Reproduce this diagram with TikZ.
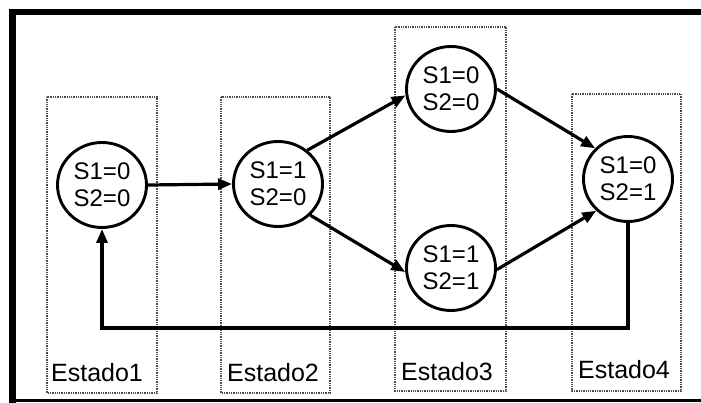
\documentclass[tikz,border=0pt]{standalone}
\usepackage{fontspec}
\setmainfont{Liberation Sans}
\usetikzlibrary{arrows.meta,shapes.geometric}

\tikzset{
  statebox/.style={draw=black!70, line width=1.3pt, dash pattern=on 1.3pt off 1pt},
  state/.style={draw, ellipse, line width=2.9pt, minimum width=89pt, minimum height=85pt,
    inner sep=0pt, align=center, font=\fontsize{24}{27}\selectfont},
  trans/.style={line width=3.2pt, -{Triangle[length=14pt,width=11pt]}},
  caption/.style={font=\fontsize{25}{28}\selectfont, inner sep=0pt}
}

\begin{document}
\begin{tikzpicture}[x=1pt,y=-1pt]
  \useasboundingbox (0,0) rectangle (701,403);
  \fill[white] (0,0) rectangle (701,403);

  % outer frame
  \fill[black] (9,9) rectangle (701,15.5);
  \fill[black] (9,9) rectangle (15.5,403);
  \fill[black] (9,399.3) rectangle (701,402);

  % dotted columns, one per state group
  \draw[statebox] (47,97) rectangle (157,393);
  \draw[statebox] (221,97) rectangle (330,393);
  \draw[statebox] (395,27) rectangle (506,391);
  \draw[statebox] (572,94) rectangle (681,391);

  % column captions
  \node[caption] (e1) at (97,373) {Estado1};
  \node[caption] (e2) at (273,373) {Estado2};
  \node[caption] (e3) at (447,372) {Estado3};
  \node[caption] (e4) at (624,370) {Estado4};

  % states
  \node[state] (a) at (102,185) {S1=0\\S2=0};
  \node[state] (b) at (278,184) {S1=1\\S2=0};
  \node[state] (c) at (451,89)  {S1=0\\S2=0};
  \node[state] (d) at (451,268) {S1=1\\S2=1};
  \node[state] (e) at (628,179) {S1=0\\S2=1};

  % transitions
  \draw[trans] (a.east) -- (b.west);
  \draw[trans] (b.49) -- (c.188);
  \draw[trans] (b.-44) -- (d.185);
  \draw[trans] (c.0) -- (e.137);
  \draw[trans] (d.-2) -- (e.225);

  % return path back to the first state
  \coordinate (ret) at (0,328);
  \draw[trans] (e.south) -- (e.south |- ret) -| (a.south);
\end{tikzpicture}
\end{document}
